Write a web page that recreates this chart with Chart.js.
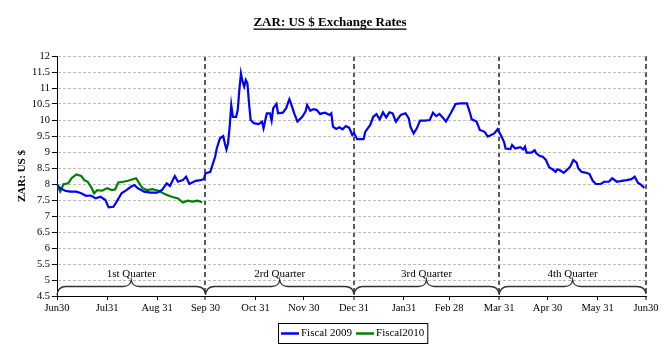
<!DOCTYPE html>
<html>
<head>
<meta charset="utf-8">
<title>ZAR: US $ Exchange Rates</title>
<script src="https://cdn.jsdelivr.net/npm/chart.js@4.4.0/dist/chart.umd.min.js"></script>
<style>
  html, body { margin: 0; padding: 0; background: #ffffff; }
  canvas { display: block; }
</style>
</head>
<body>
<canvas id="fx" width="662" height="350"></canvas>
<script>
// Day offsets from 30 June and the month-end labels on the date axis
const tickDays = [0, 31, 62, 92, 123, 153, 184, 215, 243, 274, 304, 335, 365];
const tickLabels = ['Jun30', 'Jul31', 'Aug 31', 'Sep 30', 'Oct 31', 'Nov 30', 'Dec 31',
                    'Jan31', 'Feb 28', 'Mar 31', 'Apr 30', 'May 31', 'Jun30'];

// Quarter boundaries (day offsets) and their captions
const quarterEnds = [0, 92, 184, 274, 365];
const quarterNames = ['1st Quarter', '2rd Quarter', '3rd Quarter', '4th Quarter'];

// Fiscal 2009: day offset and ZAR per US $
const days2009 = [0, 2, 5, 8, 12, 15, 18, 21, 24, 27, 30, 32, 35, 37, 40, 43, 46, 48, 50, 54,
  58, 62, 65, 68, 70, 73, 75, 78, 80, 82, 86, 89, 91, 92, 95, 96, 98, 99, 101, 103,
  104, 105, 106, 107, 108, 109, 111, 112, 113, 114, 115, 116, 117, 118, 119, 120, 122, 125, 127, 128,
  130, 132, 133, 134, 136, 137, 140, 142, 144, 145, 147, 149, 152, 154, 155, 157, 159, 161, 163, 166,
  169, 170, 171, 173, 175, 177, 179, 181, 183, 184, 186, 190, 191, 194, 196, 198, 200, 202, 204, 206,
  208, 210, 213, 216, 218, 219, 221, 223, 225, 228, 231, 233, 235, 237, 239, 241, 244, 247, 250, 254,
  256, 257, 260, 262, 265, 267, 269, 271, 273, 275, 277, 278, 281, 282, 284, 287, 289, 290, 291, 294,
  296, 297, 299, 301, 303, 305, 307, 309, 310, 312, 314, 316, 318, 320, 322, 323, 325, 328, 330, 332,
  334, 337, 339, 342, 344, 347, 350, 353, 356, 358, 360, 362, 364];
const zar2009 = [7.98, 7.87, 7.79, 7.76, 7.76, 7.71, 7.63, 7.64, 7.55, 7.60, 7.50, 7.27, 7.29, 7.45, 7.71, 7.81, 7.92, 7.97, 7.87, 7.76,
  7.73, 7.73, 7.81, 8.02, 7.94, 8.25, 8.07, 8.12, 8.23, 8.00, 8.10, 8.12, 8.15, 8.33, 8.38, 8.54, 8.85, 9.11, 9.43, 9.50,
  9.27, 9.08, 9.27, 9.79, 10.47, 10.10, 10.10, 10.31, 10.94, 11.46, 11.20, 11.04, 11.25, 11.15, 10.52, 10.00, 9.90, 9.87, 9.95, 9.74,
  10.21, 10.21, 9.98, 10.37, 10.50, 10.21, 10.23, 10.37, 10.65, 10.52, 10.21, 9.95, 10.10, 10.26, 10.47, 10.29, 10.34, 10.31, 10.19, 10.23,
  10.16, 10.21, 9.79, 9.72, 9.77, 9.71, 9.81, 9.76, 9.53, 9.60, 9.40, 9.40, 9.63, 9.84, 10.10, 10.18, 10.02, 10.24, 10.08, 10.24,
  10.21, 9.95, 10.16, 10.21, 10.05, 9.79, 9.58, 9.74, 9.98, 9.98, 10.00, 10.23, 10.12, 10.19, 10.08, 9.95, 10.21, 10.50, 10.52, 10.52,
  10.21, 10.02, 9.95, 9.69, 9.63, 9.48, 9.53, 9.58, 9.71, 9.53, 9.32, 9.11, 9.09, 9.22, 9.11, 9.15, 9.08, 9.17, 8.98, 8.98,
  9.06, 8.96, 8.88, 8.85, 8.75, 8.52, 8.46, 8.38, 8.46, 8.42, 8.35, 8.44, 8.54, 8.75, 8.67, 8.49, 8.38, 8.35, 8.31, 8.10,
  8.00, 8.00, 8.07, 8.07, 8.18, 8.07, 8.10, 8.12, 8.15, 8.23, 8.04, 7.97, 7.88];

// Fiscal 2010 (first quarter so far): day offset and ZAR per US $
const days2010 = [0, 2, 4, 7, 9, 12, 15, 17, 19, 21, 23, 25, 28, 31, 34, 36, 38, 41, 44, 47,
  49, 51, 53, 56, 59, 63, 65, 68, 71, 75, 78, 81, 84, 87, 90];
const zar2010 = [7.97, 7.76, 7.99, 8.02, 8.18, 8.30, 8.25, 8.12, 8.07, 7.92, 7.71, 7.81, 7.79, 7.87, 7.81, 7.83, 8.05, 8.07, 8.10, 8.15,
  8.18, 8.02, 7.87, 7.81, 7.84, 7.79, 7.73, 7.66, 7.60, 7.55, 7.42, 7.48, 7.45, 7.48, 7.43];

const serif = "'Liberation Serif', 'Times New Roman', Times, serif";
Chart.defaults.font.family = serif;
Chart.defaults.color = '#000000';

const pairs = (xs, ys) => xs.map((d, i) => ({ x: d, y: ys[i] }));
const clear = 'rgba(0,0,0,0)';

// Title, quarter braces and the boxed legend
const decorations = {
  id: 'decorations',
  afterDatasetsDraw(chart) {
    const { ctx, scales: { x, y } } = chart;
    const base = y.getPixelForValue(4.5);
    ctx.save();
    ctx.strokeStyle = '#303030';
    ctx.lineWidth = 1.3;
    ctx.fillStyle = '#000000';
    ctx.font = '11px ' + serif;
    ctx.textAlign = 'center';
    ctx.textBaseline = 'middle';
    for (let i = 0; i < quarterNames.length; i++) {
      const x0 = x.getPixelForValue(quarterEnds[i]);
      const x1 = x.getPixelForValue(quarterEnds[i + 1]);
      const mid = (x0 + x1) / 2;
      const flat = base - 9.5;
      const peak = base - 16;
      ctx.beginPath();
      ctx.moveTo(x0, base - 1);
      ctx.quadraticCurveTo(x0 + 1, flat, x0 + 9, flat);
      ctx.lineTo(mid - 8, flat);
      ctx.quadraticCurveTo(mid - 1, flat, mid, peak);
      ctx.quadraticCurveTo(mid + 1, flat, mid + 8, flat);
      ctx.lineTo(x1 - 9, flat);
      ctx.quadraticCurveTo(x1 - 1, flat, x1, base - 2);
      ctx.stroke();
      ctx.fillText(quarterNames[i], mid, peak - 6);
    }
    ctx.restore();
  },
  afterDraw(chart) {
    const { ctx } = chart;
    ctx.save();
    // title with underline
    const title = 'ZAR: US $ Exchange Rates';
    ctx.font = 'bold 13px ' + serif;
    ctx.fillStyle = '#000000';
    ctx.textAlign = 'center';
    ctx.textBaseline = 'middle';
    const cx = 330, ty = 23;
    ctx.fillText(title, cx, ty);
    const tw = ctx.measureText(title).width;
    ctx.fillRect(cx - tw / 2, ty + 5.5, tw, 1.3);

    // legend
    ctx.font = '11px ' + serif;
    ctx.textAlign = 'left';
    const sample = 18, gap = 2, between = 4, pad = 3;
    const items = chart.data.datasets.map(ds => ({
      label: ds.label, color: ds.borderColor, w: ctx.measureText(ds.label).width
    }));
    let total = pad * 2;
    items.forEach((it, i) => { total += sample + gap + it.w + (i ? between : 0); });
    const lx = Math.round(353 - total / 2), ly = 323.5, lh = 20;
    ctx.strokeStyle = '#000000';
    ctx.lineWidth = 1;
    ctx.strokeRect(lx + 0.5, ly, total, lh);
    let px = lx + pad;
    const my = ly + lh / 2;
    items.forEach((it, i) => {
      if (i) px += between;
      ctx.strokeStyle = it.color;
      ctx.lineWidth = 2.5;
      ctx.beginPath();
      ctx.moveTo(px, my);
      ctx.lineTo(px + sample, my);
      ctx.stroke();
      px += sample + gap;
      ctx.fillText(it.label, px, my);
      px += it.w;
    });
    ctx.restore();
  }
};

new Chart(document.getElementById('fx'), {
  type: 'line',
  data: {
    datasets: [
      { label: 'Fiscal 2009', data: pairs(days2009, zar2009), borderColor: '#0000ff',
        borderWidth: 2.2, pointRadius: 0, tension: 0, fill: false },
      { label: 'Fiscal2010', data: pairs(days2010, zar2010), borderColor: '#008000',
        borderWidth: 2.2, pointRadius: 0, tension: 0, fill: false }
    ]
  },
  options: {
    responsive: false,
    animation: false,
    devicePixelRatio: 1,
    layout: { padding: { top: 56, right: 16, bottom: 30, left: 0 } },
    plugins: {
      legend: { display: false },
      title: { display: false },
      tooltip: { enabled: false }
    },
    scales: {
      x: {
        type: 'linear',
        min: 0,
        max: 365,
        afterBuildTicks(axis) { axis.ticks = tickDays.map(v => ({ value: v })); },
        afterFit(axis) { axis.height = 24; },
        ticks: {
          autoSkip: false,
          maxRotation: 0,
          padding: 2,
          font: { size: 10.5 },
          color: '#000000',
          callback: v => tickLabels[tickDays.indexOf(v)]
        },
        grid: {
          drawOnChartArea: true,
          color: c => (c.tick && quarterEnds.slice(1).includes(c.tick.value)) ? '#5a5a5a' : clear,
          lineWidth: c => (c.tick && quarterEnds.slice(1).includes(c.tick.value)) ? 2 : 1,
          tickColor: '#000000',
          tickWidth: 1,
          tickLength: 4
        },
        border: { display: true, color: '#000000', width: 1, dash: [5, 3] }
      },
      y: {
        min: 4.5,
        max: 12,
        afterFit(axis) { axis.width = 57; },
        ticks: {
          stepSize: 0.5,
          padding: 2,
          font: { size: 10.5 },
          color: '#000000',
          callback: v => String(v)
        },
        grid: {
          color: c => (c.tick && c.tick.value === 4.5) ? clear : '#bdbdbd',
          lineWidth: 1,
          tickColor: '#000000',
          tickWidth: 1,
          tickLength: 5
        },
        border: { display: true, color: '#000000', width: 1, dash: [3, 2] },
        title: {
          display: true,
          text: 'ZAR: US $',
          font: { size: 11, weight: 'bold' },
          color: '#000000',
          padding: { top: 16, bottom: 0 }
        }
      }
    }
  },
  plugins: [decorations]
});
</script>
</body>
</html>
